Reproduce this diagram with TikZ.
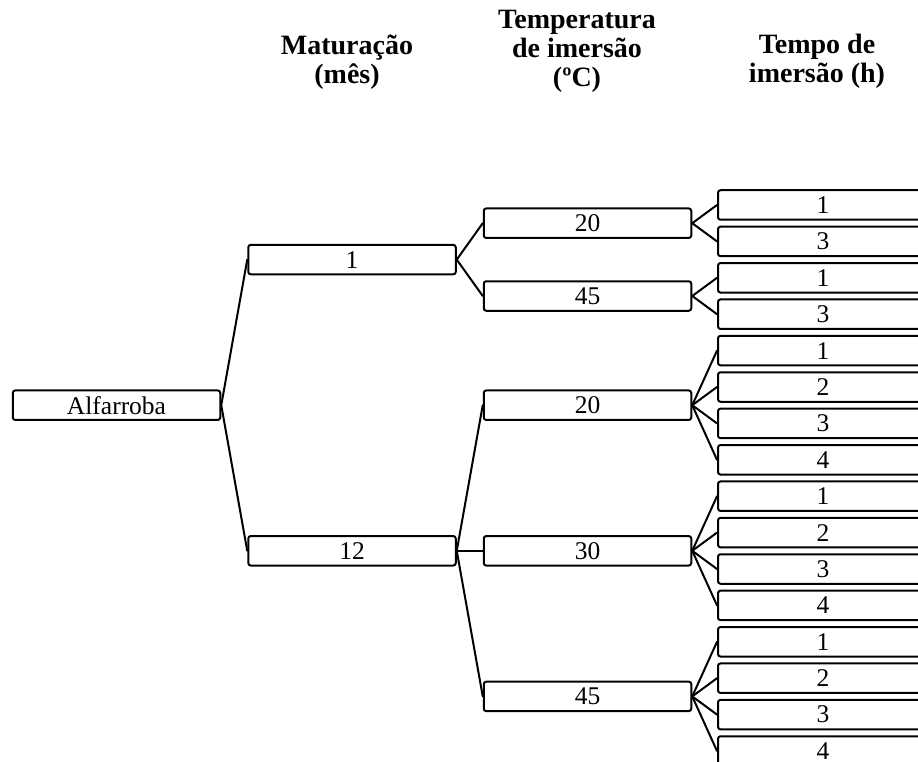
\documentclass[tikz,border=0pt]{standalone}
\usepackage{fontspec}
\setmainfont{Liberation Serif}
\begin{document}
\begin{tikzpicture}[x=1pt,y=-1pt,
  box/.style={draw=black,line width=2pt,rounded corners=2.5pt,fill=white,
    minimum width=207.5pt,minimum height=29.5pt,inner sep=0pt,
    font=\fontsize{25.5}{30}\selectfont},
  leaf/.style={box,minimum width=210pt},
  head/.style={align=center,inner sep=0pt,font=\fontsize{28}{29}\selectfont\bfseries},
  conn/.style={line width=2pt,line cap=round}]
\useasboundingbox (0,0) rectangle (918,762);
\clip (0,0) rectangle (918,762);
% headers
\node[head] (hm) at (347,62) {Maturação\\(mês)};
\node[head] (ht) at (577,51) {Temperatura\\de imersão\\(ºC)};
\node[head] (hh) at (817,61) {Tempo de\\imersão (h)};
% root
\node[box] (alf) at (116.5,405.2) {Alfarroba};
% maturation
\node[box] (m1) at (352,259.6) {1};
\node[box] (m12) at (352,550.8) {12};
% temperatures
\node[box] (t1a) at (587.5,223.2) {20};
\node[box] (t1b) at (587.5,296) {45};
\node[box] (t2a) at (587.5,405.2) {20};
\node[box] (t2b) at (587.5,550.8) {30};
\node[box] (t2c) at (587.5,696.4) {45};
% leaves
\foreach \i/\t in {0/1,1/3,2/1,3/3,4/1,5/2,6/3,7/4,8/1,9/2,10/3,11/4,12/1,13/2,14/3,15/4}
  \node[leaf] (l\i) at (823,205+36.4*\i) {\t};
% connectors
\draw[conn] (alf.east) -- (m1.west);
\draw[conn] (alf.east) -- (m12.west);
\draw[conn] (m1.east) -- (t1a.west);
\draw[conn] (m1.east) -- (t1b.west);
\draw[conn] (m12.east) -- (t2a.west);
\draw[conn] (m12.east) -- (t2b.west);
\draw[conn] (m12.east) -- (t2c.west);
\draw[conn] (t1a.east) -- (l0.west);
\draw[conn] (t1a.east) -- (l1.west);
\draw[conn] (t1b.east) -- (l2.west);
\draw[conn] (t1b.east) -- (l3.west);
\foreach \j in {4,5,6,7} \draw[conn] (t2a.east) -- (l\j.west);
\foreach \j in {8,9,10,11} \draw[conn] (t2b.east) -- (l\j.west);
\foreach \j in {12,13,14,15} \draw[conn] (t2c.east) -- (l\j.west);
\end{tikzpicture}
\end{document}
